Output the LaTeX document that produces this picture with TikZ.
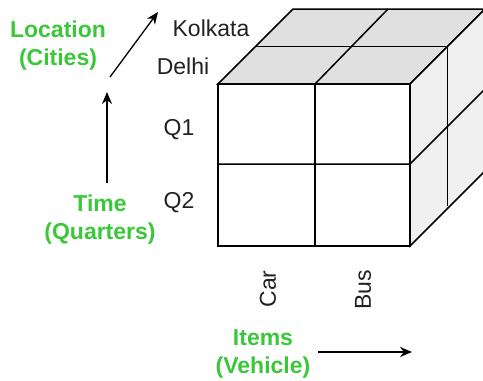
\documentclass[tikz,border=0pt]{standalone}
\usepackage{fontspec}
\setmainfont{Liberation Sans}
\usetikzlibrary{arrows.meta}
\definecolor{lblgreen}{RGB}{58,200,58}
\definecolor{topgray}{RGB}{224,224,224}
\definecolor{sidegray}{RGB}{240,240,240}
\definecolor{txtgray}{RGB}{34,34,34}
\begin{document}
\begin{tikzpicture}[x=1pt,y=-1pt,
  cube/.style={draw=black,line width=1.5pt,line join=miter},
  cubeline/.style={draw=black,line width=1.5pt},
  axis/.style={draw=black,line width=1.3pt,-{Stealth[length=12pt,width=10pt]}},
  glabel/.style={text=lblgreen,font=\fontsize{23}{28}\selectfont\bfseries,align=center,inner sep=0pt},
  dlabel/.style={text=txtgray,font=\fontsize{23}{27}\selectfont,inner sep=0pt}]
\useasboundingbox (0,0) rectangle (483,381);
\clip (0,0) rectangle (483,381);
\fill[white] (0,0) rectangle (483,381);
% cube corners
\coordinate (ftl) at (218,84);
\coordinate (ftr) at (410,84);
\coordinate (fbr) at (410,246);
\coordinate (fbl) at (218,246);
\coordinate (btl) at (293,9);
\coordinate (btr) at (485,9);
\coordinate (bbr) at (485,171);
% faces
\filldraw[cube,fill=topgray] (ftl) -- (ftr) -- (btr) -- (btl) -- cycle;
\filldraw[cube,fill=sidegray] (ftr) -- (btr) -- (bbr) -- (fbr) -- cycle;
\filldraw[cube,fill=white] (ftl) -- (ftr) -- (fbr) -- (fbl) -- cycle;
% grid lines
\coordinate (fm1) at (315,84);
\coordinate (fm2) at (315,246);
\coordinate (bm1) at (388,9);
\coordinate (hm1) at (218,164);
\coordinate (hm2) at (410,164);
\coordinate (hm3) at (485,89);
\coordinate (dm1) at (255.5,46.5);
\coordinate (dm2) at (447.5,46.5);
\coordinate (dm3) at (447.5,206);
\draw[cubeline] (fm1) -- (fm2);
\draw[cubeline] (fm1) -- (bm1);
\draw[cubeline] (hm1) -- (hm2) -- (hm3);
\draw[cubeline] (dm1) -- (dm2) -- (dm3);
% labels
\node[dlabel] (kol) at (211,28) {Kolkata};
\node[dlabel] (del) at (183,66) {Delhi};
\node[dlabel] (q1) at (179,130) {Q1};
\node[dlabel] (q2) at (179,203) {Q2};
\node[dlabel,rotate=90] (car) at (268,289) {Car};
\node[dlabel,rotate=90] (bus) at (363,290) {Bus};
\node[glabel] (loc) at (58,46) {Location\\(Cities)};
\node[glabel] (time) at (100,220) {Time\\(Quarters)};
\node[glabel] (items) at (263,354) {Items\\(Vehicle)};
% axes
\coordinate (ta) at (107,183);
\coordinate (tb) at (107,92);
\coordinate (la) at (110,77);
\coordinate (lb) at (158,12);
\coordinate (ia) at (318,352);
\coordinate (ib) at (412,352);
\draw[axis] (ta) -- (tb);
\draw[axis] (la) -- (lb);
\draw[axis] (ia) -- (ib);
\end{tikzpicture}
\end{document}
